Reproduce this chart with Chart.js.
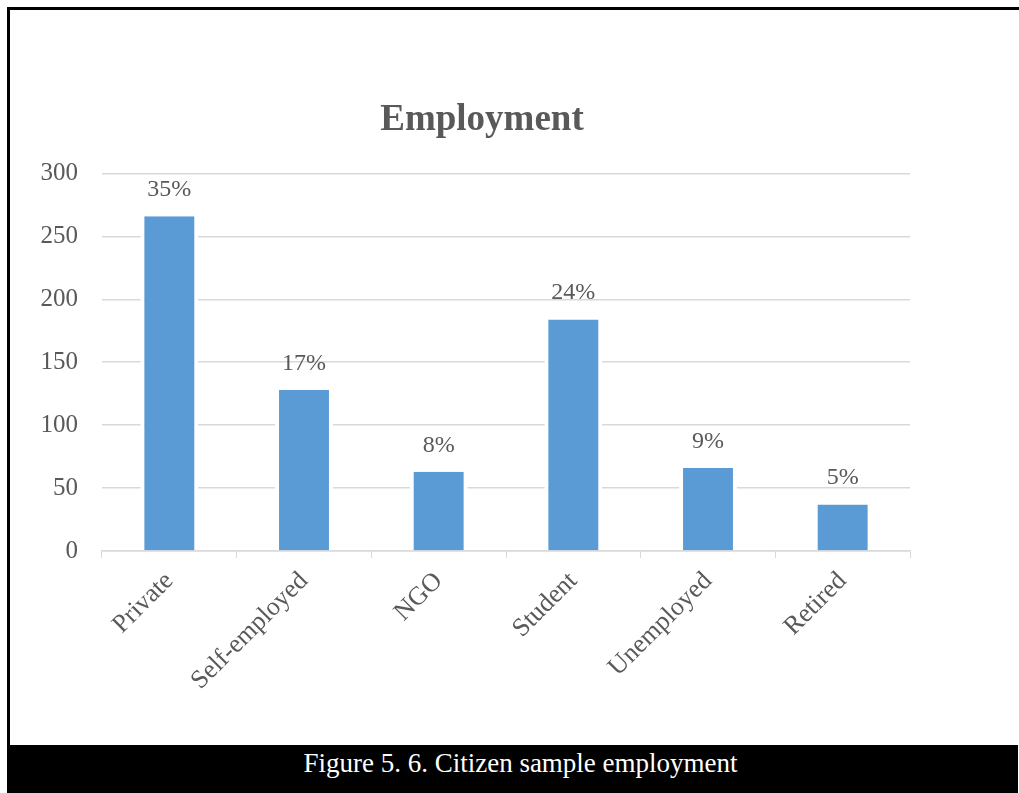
<!DOCTYPE html>
<html>
<head>
<meta charset="utf-8">
<script src="https://cdn.jsdelivr.net/npm/chart.js@4/dist/chart.umd.min.js"></script>
<style>
  html, body { margin: 0; padding: 0; background: #ffffff; }
  body { width: 1019px; height: 793px; position: relative; overflow: hidden; }
  #chart { position: absolute; left: 0; top: 0; }
  #frame {
    position: absolute; left: 7px; top: 7px; width: 1012px; height: 738px;
    border-top: 3px solid #000; border-left: 3px solid #000; box-sizing: border-box;
    pointer-events: none;
  }
  #caption {
    position: absolute; left: 7px; top: 745px; width: 1011px; height: 48px;
    box-sizing: border-box; padding-left: 16px;
    background: #000; color: #fff; font-family: "Liberation Serif", serif;
    font-size: 27px; line-height: 36px; text-align: center;
  }
</style>
</head>
<body>
<canvas id="chart" width="1019" height="745"></canvas>
<div id="frame"></div>
<div id="caption">Figure 5. 6. Citizen sample employment</div>
<script>
// Respondents by employment status
const categories = ['Private', 'Self-employed', 'NGO', 'Student', 'Unemployed', 'Retired'];
const counts = [266, 128, 63, 184, 66, 37];
const shareLabels = ['35%', '17%', '8%', '24%', '9%', '5%'];
const yTicks = [0, 50, 100, 150, 200, 250, 300];

const serif = '"Liberation Serif", "Times New Roman", serif';
const textGrey = '#595959';
const gridGrey = '#d9d9d9';

// Share labels written above each bar
const shareLabelPlugin = {
  id: 'shareLabels',
  afterDatasetsDraw(chart) {
    const ctx = chart.ctx;
    const meta = chart.getDatasetMeta(0);
    ctx.save();
    ctx.font = '24px ' + serif;
    ctx.fillStyle = textGrey;
    ctx.textAlign = 'center';
    ctx.textBaseline = 'alphabetic';
    meta.data.forEach((bar, i) => {
      ctx.fillText(shareLabels[i], bar.x, bar.y - 20);
    });
    ctx.restore();
  }
};

// The y axis is kept narrow so the title sits left of centre; let its
// tick labels spill into the left padding instead of being clipped.
const wideLabelAreaPlugin = {
  id: 'wideLabelArea',
  afterLayout(chart) {
    chart.scales.y.left = 0;
  }
};

new Chart(document.getElementById('chart'), {
  type: 'bar',
  data: {
    labels: categories,
    datasets: [{
      data: counts,
      backgroundColor: '#5b9bd5',
      borderColor: '#ffffff',
      borderWidth: { left: 4, right: 4, top: 0, bottom: 0 },
      borderSkipped: 'bottom',
      categoryPercentage: 1,
      barPercentage: 0.43
    }]
  },
  options: {
    responsive: false,
    animation: false,
    layout: { padding: { left: 54, right: 109, top: 0, bottom: 0 } },
    plugins: {
      legend: { display: false },
      tooltip: { enabled: false },
      title: {
        display: true,
        text: 'Employment',
        color: textGrey,
        font: { family: serif, size: 37, weight: 'bold' },
        padding: { top: 98, bottom: 31 }
      }
    },
    scales: {
      x: {
        grid: {
          offset: true,
          drawOnChartArea: false,
          drawTicks: true,
          tickLength: 7,
          color: gridGrey
        },
        border: { display: true, color: gridGrey, width: 1.5 },
        ticks: {
          color: textGrey,
          font: { family: serif, size: 26 },
          maxRotation: 45,
          minRotation: 45,
          autoSkip: false,
          padding: 8
        },
        afterFit(scale) { scale.height = 194; }
      },
      y: {
        min: 0,
        max: 300,
        afterBuildTicks(scale) { scale.ticks = yTicks.map(v => ({ value: v })); },
        grid: { color: gridGrey, lineWidth: 1.5, drawTicks: false },
        border: { display: false },
        ticks: {
          color: textGrey,
          font: { family: serif, size: 25 },
          padding: 24
        },
        afterFit(scale) { scale.width = 48; }
      }
    }
  },
  plugins: [shareLabelPlugin, wideLabelAreaPlugin]
});
</script>
</body>
</html>
